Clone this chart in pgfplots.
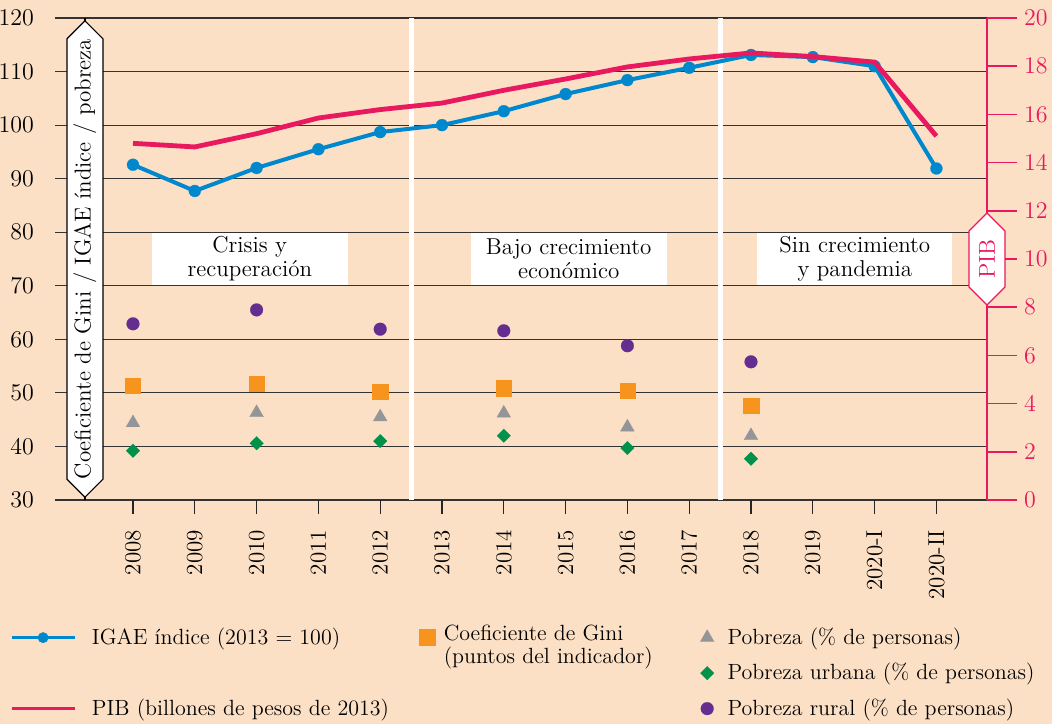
\documentclass[border=0pt]{standalone}
\usepackage{pgfplots}
\pgfplotsset{compat=1.18}
\usetikzlibrary{shapes.symbols}
\definecolor{bgc}{HTML}{FCE0C5}
\definecolor{igaec}{HTML}{0088CE}
\definecolor{pibc}{HTML}{E8195F}
\definecolor{ginic}{HTML}{F7941D}
\definecolor{pobc}{HTML}{939598}
\definecolor{urbc}{HTML}{00924A}
\definecolor{rurc}{HTML}{662D91}
\newcommand\cf{\fontsize{11.5}{12}\selectfont}
\newcommand\lf{\fontsize{11}{11.5}\selectfont}
\pgfplotsset{
 igaeS/.style={color=igaec, line width=2pt, mark=*, mark size=3pt, mark options={solid, fill=igaec, draw=igaec, line width=0.1pt}},
 pibS/.style={color=pibc, line width=2.4pt, no markers},
 giniS/.style={only marks, color=ginic, mark=square*, mark size=3.8pt, mark options={fill=ginic, draw=ginic, line width=0.1pt}},
 pobS/.style={only marks, color=pobc, mark=triangle*, mark size=4pt, mark options={fill=pobc, draw=pobc, line width=0.1pt}},
 urbS/.style={only marks, color=urbc, mark=square*, mark size=2.4pt, mark options={fill=urbc, draw=urbc, line width=0.1pt, rotate=45}},
 rurS/.style={only marks, color=rurc, mark=*, mark size=3.2pt, mark options={fill=rurc, draw=rurc, line width=0.1pt}},
 markleg/.style={legend image code/.code={\draw[##1] plot coordinates {(3.5pt,0pt)}; \path (0pt,0pt) (13.5pt,0pt);}},
}
\begin{document}
\begin{tikzpicture}
\fill[bgc] (-27.5pt,-112pt) rectangle (498.5pt,250pt);
\begin{axis}[
 at={(0pt,0pt)}, anchor=south west, scale only axis, width=466pt, height=241pt,
 clip=false,
 xmin=-1.262, xmax=13.819, ymin=30, ymax=120,
 xtick={0,...,13},
 xticklabels={2008,2009,2010,2011,2012,2013,2014,2015,2016,2017,2018,2019,2020-I,2020-II},
 ytick={30,40,...,120},
 ymajorgrids, major grid style={black!80, line width=0.6pt},
 axis line style={draw=none},
 tick align=outside, major tick length=7pt,
 xtick pos=bottom, ytick pos=left,
 xtick style={black!85, line width=0.6pt},
 ytick style={draw=none},
 xticklabel shift=4.5pt,
 xticklabel style={rotate=90, anchor=east, font=\cf},
 yticklabel style={font=\cf},
 legend columns=3, legend cell align=left,
 legend style={at={(axis description cs:-0.0483,-0.257)}, anchor=north west, draw=none, fill=none,
   inner sep=0pt, outer sep=0pt, font=\lf, row sep=4pt, column sep=0pt,
   nodes={inner xsep=0pt, inner ysep=2pt}},
]
\draw[white, line width=2.5pt] (axis cs:4.5,30) -- (axis cs:4.5,120);
\draw[white, line width=2.5pt] (axis cs:9.5,30) -- (axis cs:9.5,120);
\fill[white] ([yshift=0.3pt]axis cs:0.307,70) rectangle ([yshift=-0.3pt]axis cs:3.476,80);
\fill[white] ([yshift=0.3pt]axis cs:5.465,70) rectangle ([yshift=-0.3pt]axis cs:8.634,80);
\fill[white] ([yshift=0.3pt]axis cs:10.09,70) rectangle ([yshift=-0.3pt]axis cs:13.26,80);
\node[align=center, font=\cf] at (axis cs:1.89,75) {Crisis y\\recuperación};
\node[align=center, font=\cf] at (axis cs:7.05,75) {Bajo crecimiento\\económico};
\node[align=center, font=\cf] at (axis cs:11.68,75) {Sin crecimiento\\y pandemia};

\addplot[igaeS, forget plot] coordinates {
 (0,92.6) (1,87.7) (2,92.0) (3,95.5) (4,98.7) (5,100.0) (6,102.6) (7,105.8)
 (8,108.4) (9,110.7) (10,113.1) (11,112.7) (12,111.0) (13,91.9)};
\addplot[rurS, forget plot] coordinates {(0,62.9) (2,65.5) (4,61.9) (6,61.6) (8,58.8) (10,55.8)};
\addplot[giniS, forget plot] coordinates {(0,51.3) (2,51.7) (4,50.2) (6,50.9) (8,50.5) (10,47.6)};
\addplot[pobS, forget plot] coordinates {(0,44.4) (2,46.3) (4,45.5) (6,46.2) (8,43.6) (10,42.0)};
\addplot[urbS, forget plot] coordinates {(0,39.2) (2,40.6) (4,41.0) (6,42.0) (8,39.7) (10,37.7)};

\draw[black, line width=0.6pt] (axis cs:-0.777,30) -- (axis cs:-0.777,120);
\node[signal, signal to=east and west, rotate=90, draw=black, fill=white, line width=0.6pt,
  minimum width=228pt, minimum height=18pt, inner sep=0pt, font=\cf]
  at (axis cs:-0.777,75) {Coeficiente de Gini / IGAE índice / pobreza};

\addlegendimage{legend image code/.code={\draw[igaec, line width=1.4pt] (0pt,0pt) -- (31.5pt,0pt); \fill[igaec] (15.75pt,0pt) circle (2.5pt); \path (40pt,0pt);}}
\addlegendentry{\makebox[163.5pt][l]{IGAE índice (2013 = 100)}}
\addlegendimage{legend image code/.code={\fill[ginic] (0pt,-4pt) rectangle (8pt,4pt); \path (12pt,0pt);}}
\addlegendentry{\makebox[128pt][l]{\smash{\raisebox{-2pt}{\begin{tabular}[t]{@{}l@{}}Coeficiente de Gini\\(puntos del indicador)\end{tabular}}}}}
\addlegendimage{pobS, markleg}
\addlegendentry{Pobreza (\% de personas)}
\addlegendimage{empty legend}
\addlegendentry{}
\addlegendimage{empty legend}
\addlegendentry{}
\addlegendimage{urbS, markleg}
\addlegendentry{Pobreza urbana (\% de personas)}
\addlegendimage{legend image code/.code={\draw[pibc, line width=1.6pt] (0pt,0pt) -- (31.5pt,0pt); \path (40pt,0pt);}}
\addlegendentry{PIB (billones de pesos de 2013)}
\addlegendimage{empty legend}
\addlegendentry{}
\addlegendimage{rurS, markleg}
\addlegendentry{Pobreza rural (\% de personas)}
\end{axis}

\begin{axis}[
 at={(0pt,0pt)}, anchor=south west, scale only axis, width=466pt, height=241pt,
 clip=false,
 xmin=-1.262, xmax=13.819, ymin=0, ymax=20,
 axis x line=none, axis y line*=right,
 ytick={0,2,...,20},
 y axis line style={pibc, line width=0.8pt},
 tick align=outside, major tick length=15pt,
 ytick style={pibc, line width=0.8pt},
 yticklabel style={pibc, font=\cf},
]
\addplot[pibS] coordinates {
 (0,14.8) (1,14.65) (2,15.2) (3,15.85) (4,16.2) (5,16.47) (6,17.0) (7,17.47)
 (8,17.97) (9,18.3) (10,18.55) (11,18.4) (12,18.17) (13,15.1)};
\node[signal, signal to=east and west, rotate=90, draw=pibc, fill=white, line width=0.6pt,
  minimum width=46pt, minimum height=18pt, inner sep=0pt, text=pibc, font=\cf]
  at (axis cs:13.819,10) {PIB};
\end{axis}
\pgfresetboundingbox
\path[use as bounding box] (-27.5pt,-112pt) rectangle (498.5pt,250pt);
\end{tikzpicture}
\end{document}
